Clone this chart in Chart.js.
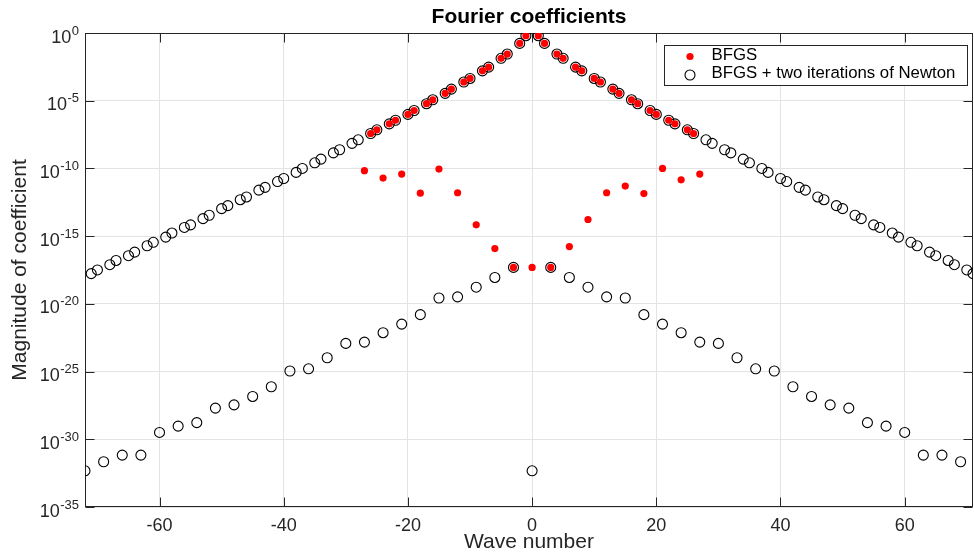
<!DOCTYPE html>
<html>
<head>
<meta charset="utf-8">
<title>Fourier coefficients</title>
<script src="https://cdn.jsdelivr.net/npm/chart.js@4.4.1/dist/chart.umd.min.js"></script>
<style>
  html, body { margin: 0; padding: 0; background: #fff; }
  .chart { width: 974px; height: 556px; }
</style>
</head>
<body>
<div class="chart"><canvas id="fourierChart" width="974" height="556"></canvas></div>
<script>
// wave numbers -72..71 and magnitudes (BFGS + Newton, open circles)
const newtonWave = [
  -72, -71, -70, -69, -68, -67, -66, -65, -64, -63, -62, -61,
  -60, -59, -58, -57, -56, -55, -54, -53, -52, -51, -50, -49,
  -48, -47, -46, -45, -44, -43, -42, -41, -40, -39, -38, -37,
  -36, -35, -34, -33, -32, -31, -30, -29, -28, -27, -26, -25,
  -24, -23, -22, -21, -20, -19, -18, -17, -16, -15, -14, -13,
  -12, -11, -10, -9, -8, -7, -6, -5, -4, -3, -2, -1,
  0, 1, 2, 3, 4, 5, 6, 7, 8, 9, 10, 11,
  12, 13, 14, 15, 16, 17, 18, 19, 20, 21, 22, 23,
  24, 25, 26, 27, 28, 29, 30, 31, 32, 33, 34, 35,
  36, 37, 38, 39, 40, 41, 42, 43, 44, 45, 46, 47,
  48, 49, 50, 51, 52, 53, 54, 55, 56, 57, 58, 59,
  60, 61, 62, 63, 64, 65, 66, 67, 68, 69, 70, 71
];
const newtonMag = [
  4.7e-33, 1.7e-18, 3.2e-18, 2.2e-32, 7.8e-18, 1.6e-17, 6.8e-32, 3.6e-17, 6.6e-17, 6.8e-32, 1.95e-16, 3.5e-16,
  3.2e-30, 8.5e-16, 1.7e-15, 9.3e-30, 4.4e-15, 6.8e-15, 1.7e-29, 1.95e-14, 3.5e-14, 2.0e-28, 1.07e-13, 1.8e-13,
  3.5e-28, 4.9e-13, 7.8e-13, 1.45e-27, 2.5e-12, 4.0e-12, 7.6e-27, 1.07e-11, 1.8e-11, 1.1e-25, 5.1e-11, 1.0e-10,
  1.6e-25, 2.6e-10, 4.9e-10, 1.05e-24, 1.4e-9, 2.4e-9, 1.2e-23, 7.1e-9, 1.3e-8, 1.5e-23, 3.8e-8, 7.1e-8,
  7.4e-23, 1.95e-7, 3.6e-7, 3.2e-22, 9.8e-7, 1.9e-6, 1.6e-21, 6.0e-6, 1.17e-5, 2.7e-20, 3.5e-5, 7.2e-5,
  3.3e-20, 2.4e-4, 4.4e-4, 1.7e-19, 1.6e-3, 3.0e-3, 8.9e-19, 1.35e-2, 2.8e-2, 4.9e-18, 1.7e-1, 6.3e-1,
  4.7e-33, 6.3e-1, 1.7e-1, 4.9e-18, 2.8e-2, 1.35e-2, 8.9e-19, 3.0e-3, 1.6e-3, 1.7e-19, 4.4e-4, 2.4e-4,
  3.3e-20, 7.2e-5, 3.5e-5, 2.7e-20, 1.17e-5, 6.0e-6, 1.6e-21, 1.9e-6, 9.8e-7, 3.2e-22, 3.6e-7, 1.95e-7,
  7.4e-23, 7.1e-8, 3.8e-8, 1.5e-23, 1.3e-8, 7.1e-9, 1.2e-23, 2.4e-9, 1.4e-9, 1.05e-24, 4.9e-10, 2.6e-10,
  1.6e-25, 1.0e-10, 5.1e-11, 1.1e-25, 1.8e-11, 1.07e-11, 7.6e-27, 4.0e-12, 2.5e-12, 1.45e-27, 7.8e-13, 4.9e-13,
  3.5e-28, 1.8e-13, 1.07e-13, 2.0e-28, 3.5e-14, 1.95e-14, 1.7e-29, 6.8e-15, 4.4e-15, 9.3e-30, 1.7e-15, 8.5e-16,
  3.2e-30, 3.5e-16, 1.95e-16, 6.8e-32, 6.6e-17, 3.6e-17, 6.8e-32, 1.6e-17, 7.8e-18, 2.2e-32, 3.2e-18, 1.7e-18
];

// BFGS only (red dots), wave numbers -27..27
const bfgsWave = [
  -27, -26, -25, -24, -23, -22, -21, -20, -19, -18, -17, -16, -15, -14,
  -13, -12, -11, -10, -9, -8, -7, -6, -5, -4, -3, -2, -1,
  0, 1, 2, 3, 4, 5, 6, 7, 8, 9, 10, 11, 12, 13,
  14, 15, 16, 17, 18, 19, 20, 21, 22, 23, 24, 25, 26, 27
];
const bfgsMag = [
  6.8e-11, 3.8e-8, 7.1e-8, 1.95e-11, 1.95e-7, 3.6e-7, 3.8e-11, 9.8e-7, 1.9e-6, 1.5e-12, 6.0e-6, 1.17e-5, 8.9e-11, 3.5e-5,
  7.2e-5, 1.6e-12, 2.4e-4, 4.4e-4, 6.9e-15, 1.6e-3, 3.0e-3, 1.2e-16, 1.35e-2, 2.8e-2, 4.9e-18, 1.7e-1, 6.3e-1,
  4.9e-18, 6.3e-1, 1.7e-1, 4.9e-18, 2.8e-2, 1.35e-2, 1.7e-16, 3.0e-3, 1.6e-3, 1.7e-14, 4.4e-4, 2.4e-4, 1.6e-12, 7.2e-5,
  3.5e-5, 5.0e-12, 1.17e-5, 6.0e-6, 1.4e-12, 1.9e-6, 9.8e-7, 1.0e-10, 3.6e-7, 1.95e-7, 1.45e-11, 7.1e-8, 3.8e-8, 3.8e-11
];

const seriesLabels = ['BFGS', 'BFGS + two iterations of Newton'];
const xTicks = [-60, -40, -20, 0, 20, 40, 60];
const yTicks = [1e-35, 1e-30, 1e-25, 1e-20, 1e-15, 1e-10, 1e-5, 1e0];

const axisColor = '#262626';
const gridColor = '#e3e3e3';
const fontFamily = "'Liberation Sans', Arial, Helvetica, sans-serif";

Chart.defaults.font.family = fontFamily;
Chart.defaults.color = axisColor;

function toPoints(xs, ys) {
  return xs.map((x, i) => ({ x: x, y: ys[i] }));
}

// box round the axes plus the inward tick marks
const axisBox = {
  id: 'axisBox',
  beforeDatasetsDraw(chart) {
    const { ctx, chartArea: a, scales } = chart;
    const L = Math.round(a.left) + 0.5, R = Math.round(a.right) - 0.5;
    const T = Math.round(a.top) + 0.5, B = Math.round(a.bottom) - 0.5;
    const tl = 9;
    ctx.save();
    ctx.strokeStyle = axisColor;
    ctx.lineWidth = 1;
    ctx.strokeRect(L, T, R - L, B - T);
    ctx.beginPath();
    for (const v of xTicks) {
      const px = Math.round(scales.x.getPixelForValue(v)) + 0.5;
      ctx.moveTo(px, B); ctx.lineTo(px, B - tl);
      ctx.moveTo(px, T); ctx.lineTo(px, T + tl);
    }
    for (const v of yTicks) {
      const py = Math.round(scales.y.getPixelForValue(v)) + 0.5;
      ctx.moveTo(L, py); ctx.lineTo(L + tl, py);
      ctx.moveTo(R, py); ctx.lineTo(R - tl, py);
    }
    ctx.stroke();
    ctx.restore();
  },
  afterDraw(chart) {
    // y tick labels as 10 with a raised exponent
    const { ctx, chartArea: a, scales } = chart;
    ctx.save();
    ctx.fillStyle = axisColor;
    ctx.textBaseline = 'alphabetic';
    const rightEdge = a.left - 6;
    for (const v of yTicks) {
      const py = scales.y.getPixelForValue(v);
      const exp = String(Math.round(Math.log10(v)));
      ctx.font = '13px ' + fontFamily;
      const ew = ctx.measureText(exp).width;
      ctx.textAlign = 'left';
      ctx.fillText(exp, rightEdge - ew, py + 1.5);
      ctx.font = '18px ' + fontFamily;
      ctx.textAlign = 'right';
      ctx.fillText('10', rightEdge - ew - 0.5, py + 9.5);
    }
    ctx.restore();
  }
};

// legend box in the upper right corner of the axes
const boxLegend = {
  id: 'boxLegend',
  afterDraw(chart) {
    const { ctx, chartArea: a } = chart;
    const w = 303, h = 40;
    const x0 = Math.round(a.right - 309) + 0.5;
    const y0 = Math.round(a.top + 12) + 0.5;
    ctx.save();
    ctx.fillStyle = '#ffffff';
    ctx.fillRect(x0, y0, w, h);
    ctx.strokeStyle = axisColor;
    ctx.lineWidth = 1;
    ctx.strokeRect(x0, y0, w, h);
    const rows = [y0 + 11, y0 + 29.5];
    chart.data.datasets.forEach((ds, i) => {
      const cy = rows[i];
      ctx.beginPath();
      ctx.arc(x0 + 25.5, cy, ds.pointRadius, 0, Math.PI * 2);
      ctx.fillStyle = ds.backgroundColor;
      ctx.fill();
      if (ds.borderWidth > 0) {
        ctx.strokeStyle = ds.borderColor;
        ctx.lineWidth = ds.borderWidth;
        ctx.stroke();
      }
      ctx.fillStyle = '#000000';
      ctx.font = '16.8px ' + fontFamily;
      ctx.textAlign = 'left';
      ctx.textBaseline = 'middle';
      ctx.fillText(ds.label, x0 + 47, cy - 1.5);
    });
    ctx.restore();
  }
};

const ctx = document.getElementById('fourierChart').getContext('2d');
new Chart(ctx, {
  type: 'scatter',
  data: {
    datasets: [
      {
        label: seriesLabels[0],
        data: toPoints(bfgsWave, bfgsMag),
        pointRadius: 3.6,
        pointHoverRadius: 3.6,
        borderWidth: 0,
        backgroundColor: '#ff0000',
        borderColor: '#ff0000'
      },
      {
        label: seriesLabels[1],
        data: toPoints(newtonWave, newtonMag),
        pointRadius: 5,
        pointHoverRadius: 5,
        borderWidth: 1.1,
        backgroundColor: 'rgba(0,0,0,0)',
        borderColor: '#000000'
      }
    ]
  },
  options: {
    responsive: false,
    animation: false,
    events: [],
    layout: { autoPadding: false, padding: { left: 0, right: 1, top: 0, bottom: 0 } },
    plugins: {
      legend: { display: false },
      tooltip: { enabled: false },
      title: {
        display: true,
        fullSize: false,
        text: 'Fourier coefficients',
        color: '#000000',
        font: { size: 21, weight: 'bold', lineHeight: 1.2 },
        padding: { top: 5, bottom: 2.8 }
      }
    },
    scales: {
      x: {
        type: 'linear',
        min: -72,
        max: 71,
        afterBuildTicks: (scale) => { scale.ticks = xTicks.map(v => ({ value: v })); },
        afterFit: (scale) => { scale.height = 49; },
        grid: { color: gridColor, drawTicks: false },
        border: { display: false },
        ticks: {
          color: axisColor,
          font: { size: 18 },
          padding: 8,
          maxRotation: 0,
          callback: (v) => String(v)
        },
        title: {
          display: true,
          text: 'Wave number',
          color: axisColor,
          font: { size: 21, lineHeight: 1.2 },
          padding: { top: 0, bottom: 1 }
        }
      },
      y: {
        type: 'logarithmic',
        min: 1e-35,
        max: 1,
        afterBuildTicks: (scale) => { scale.ticks = yTicks.map(v => ({ value: v })); },
        afterFit: (scale) => { scale.width = 85; },
        grid: { color: gridColor, drawTicks: false },
        border: { display: false },
        ticks: { display: false },
        title: {
          display: true,
          text: 'Magnitude of coefficient',
          color: axisColor,
          font: { size: 21, lineHeight: 1.2 },
          padding: { top: 7.5, bottom: 0 }
        }
      }
    }
  },
  plugins: [axisBox, boxLegend]
});
</script>
</body>
</html>
